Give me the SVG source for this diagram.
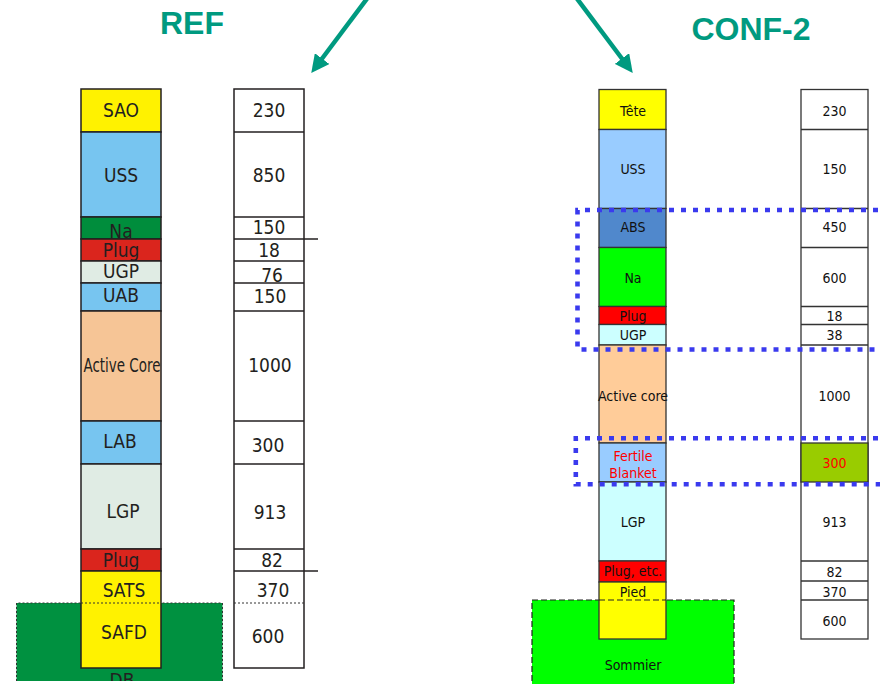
<svg xmlns="http://www.w3.org/2000/svg" width="880" height="684" viewBox="0 0 880 684">
<defs>
<style>
.t{font-family:"Liberation Sans Narrow","DejaVu Sans Condensed","Liberation Sans",sans-serif;text-anchor:middle;fill:#231F20}
.L{font-size:19px}
.R{font-size:14px;fill:#111}
.title{font-family:"Liberation Sans",Arial,sans-serif;font-weight:bold;font-size:32px;fill:#009A80;text-anchor:middle}
.lc{stroke:#231F20;stroke-width:1.5}
.rc{stroke:#333;stroke-width:1.3}
.box{fill:#fff}
.blue{fill:none;stroke:#3A3AEE;stroke-width:4.6;stroke-dasharray:5 7}
.arr{stroke:#009A80;stroke-width:4.5;fill:none}
</style>
<marker id="ah" markerUnits="userSpaceOnUse" markerWidth="18" markerHeight="18" refX="6" refY="8" orient="auto" viewBox="0 0 16 16">
<path d="M0,0 L16,8 L0,16 Z" fill="#009A80"/>
</marker>
<clipPath id="clipDB"><rect x="16" y="603" width="207" height="78"/></clipPath>
</defs>
<rect width="880" height="684" fill="#fff"/>

<g id="connectors">
<line class="arr" x1="373.5" y1="-10" x2="318" y2="64" marker-end="url(#ah)"/>
<line class="arr" x1="570.5" y1="-10" x2="626" y2="64" marker-end="url(#ah)"/>
</g>

<g id="title-ref"><text class="title" x="192" y="34">REF</text></g>
<g id="title-conf2"><text class="title" x="751" y="40">CONF-2</text></g>

<!-- LEFT: REF -->
<g id="ref-DB">
<rect x="16.5" y="603" width="206" height="78" fill="#009140"/>
<path d="M16.5,681 V603 H222.5 V681" fill="none" stroke="#333" stroke-width="1" stroke-dasharray="2 2"/>
<text class="t L" x="122" y="687" clip-path="url(#clipDB)">DB</text>
</g>
<g id="ref-SAO"><rect class="lc" x="81" y="89" width="80" height="43" fill="#FFF200"/><text class="t L" x="121" y="116.7">SAO</text></g>
<g id="ref-USS"><rect class="lc" x="81" y="132" width="80" height="85" fill="#77C5F0"/><text class="t L" x="121" y="181.7">USS</text></g>
<g id="ref-Na"><rect class="lc" x="81" y="217" width="80" height="22" fill="#008D3C"/><text class="t L" x="121" y="237.5">Na</text></g>
<g id="ref-Plug1"><rect class="lc" x="81" y="239" width="80" height="22" fill="#DA251D"/><text class="t L" x="121" y="256.7">Plug</text></g>
<g id="ref-UGP"><rect class="lc" x="81" y="261" width="80" height="22" fill="#E0ECE4"/><text class="t L" x="121" y="278">UGP</text></g>
<g id="ref-UAB"><rect class="lc" x="81" y="283" width="80" height="28" fill="#77C5F0"/><text class="t L" x="121" y="301.7">UAB</text></g>
<g id="ref-ActiveCore"><rect class="lc" x="81" y="311" width="80" height="110" fill="#F6C596"/><text class="t L" x="122" y="371.7" textLength="77" lengthAdjust="spacingAndGlyphs">Active Core</text></g>
<g id="ref-LAB"><rect class="lc" x="81" y="421" width="80" height="43" fill="#77C5F0"/><text class="t L" x="120" y="447.7">LAB</text></g>
<g id="ref-LGP"><rect class="lc" x="81" y="464" width="80" height="85" fill="#E0ECE4"/><text class="t L" x="123" y="518">LGP</text></g>
<g id="ref-Plug2"><rect class="lc" x="81" y="549" width="80" height="22" fill="#DA251D"/><text class="t L" x="121" y="566.7">Plug</text></g>
<g id="ref-SATS"><rect class="lc" x="81" y="571" width="80" height="97" fill="#FFF200"/><text class="t L" x="124" y="596.7">SATS</text>
<line x1="81" y1="603" x2="161" y2="603" stroke="#333" stroke-width="1" stroke-dasharray="2 2"/></g>
<g id="ref-SAFD"><text class="t L" x="124" y="639.3">SAFD</text></g>

<g id="ref-values">
<rect class="lc box" x="234" y="89" width="70" height="579"/>
<g class="lc">
<line x1="234" y1="132" x2="304" y2="132"/>
<line x1="234" y1="217" x2="304" y2="217"/>
<line x1="234" y1="239" x2="318" y2="239"/>
<line x1="234" y1="261" x2="304" y2="261"/>
<line x1="234" y1="283" x2="304" y2="283"/>
<line x1="234" y1="311" x2="304" y2="311"/>
<line x1="234" y1="421" x2="304" y2="421"/>
<line x1="234" y1="464" x2="304" y2="464"/>
<line x1="234" y1="549" x2="304" y2="549"/>
<line x1="234" y1="571" x2="318" y2="571"/>
</g>
<line x1="234" y1="603" x2="304" y2="603" stroke="#333" stroke-width="1" stroke-dasharray="2 2"/>
<text class="t L" x="269" y="116.7">230</text>
<text class="t L" x="269" y="181.7">850</text>
<text class="t L" x="269" y="234.3">150</text>
<text class="t L" x="269" y="256.7">18</text>
<text class="t L" x="272" y="282.3">76</text>
<text class="t L" x="270" y="303.3">150</text>
<text class="t L" x="270" y="372">1000</text>
<text class="t L" x="268" y="452.3">300</text>
<text class="t L" x="270" y="519">913</text>
<text class="t L" x="272" y="566.7">82</text>
<text class="t L" x="273" y="596.7">370</text>
<text class="t L" x="268" y="642.7">600</text>
</g>

<!-- RIGHT: CONF-2 -->
<g id="conf-Sommier">
<rect x="532" y="600" width="202" height="95" fill="#00FF00" stroke="#222" stroke-width="1.2" stroke-dasharray="6 3"/>
<text class="t R" x="633" y="670">Sommier</text>
</g>
<g id="conf-Tete"><rect class="rc" x="599" y="89.5" width="67" height="40" fill="#FFFF00"/><text class="t R" x="633" y="115.7">Tête</text></g>
<g id="conf-USS"><rect class="rc" x="599" y="129.5" width="67" height="79" fill="#99CCFF"/><text class="t R" x="633" y="174.3">USS</text></g>
<g id="conf-ABS"><rect class="rc" x="599" y="208.5" width="67" height="39" fill="#5088CC"/><text class="t R" x="633" y="232.3">ABS</text></g>
<g id="conf-Na"><rect class="rc" x="599" y="247.5" width="67" height="59" fill="#00FF00"/><text class="t R" x="633" y="282.7">Na</text></g>
<g id="conf-Plug"><rect class="rc" x="599" y="306.5" width="67" height="18" fill="#FF0000"/><text class="t R" x="633" y="321">Plug</text></g>
<g id="conf-UGP"><rect class="rc" x="599" y="324.5" width="67" height="20.5" fill="#CCFFFF"/><text class="t R" x="633" y="340">UGP</text></g>
<g id="conf-ActiveCore"><rect class="rc" x="599" y="345" width="67" height="98" fill="#FFCC99"/><text class="t R" x="633" y="400.7">Active core</text></g>
<g id="conf-FertileBlanket"><rect class="rc" x="599" y="443" width="67" height="39" fill="#99CCFF"/>
<text class="t R" x="633" y="460.7" style="fill:#FF0000">Fertile</text><text class="t R" x="633" y="478.3" style="fill:#FF0000">Blanket</text></g>
<g id="conf-LGP"><rect class="rc" x="599" y="482" width="67" height="79" fill="#CCFFFF"/><text class="t R" x="633" y="527.3">LGP</text></g>
<g id="conf-PlugEtc"><rect class="rc" x="599" y="561" width="67" height="21" fill="#FF0000"/><text class="t R" x="633" y="576">Plug, etc.</text></g>
<g id="conf-Pied"><rect class="rc" x="599" y="582" width="67" height="57" fill="#FFFF00"/><text class="t R" x="633" y="596.7">Pied</text>
<line x1="599" y1="600" x2="666" y2="600" stroke="#222" stroke-width="1.2" stroke-dasharray="6 3"/></g>

<g id="conf-values">
<rect class="rc box" x="801" y="89.5" width="67" height="549.5"/>
<rect class="rc" x="801" y="443" width="67" height="39" fill="#99CC00"/>
<g class="rc">
<line x1="801" y1="129.5" x2="868" y2="129.5"/>
<line x1="801" y1="208.5" x2="868" y2="208.5"/>
<line x1="801" y1="247.5" x2="868" y2="247.5"/>
<line x1="801" y1="306.5" x2="868" y2="306.5"/>
<line x1="801" y1="324.5" x2="868" y2="324.5"/>
<line x1="801" y1="345" x2="868" y2="345"/>
<line x1="801" y1="561" x2="868" y2="561"/>
<line x1="801" y1="581" x2="868" y2="581"/>
<line x1="801" y1="600" x2="868" y2="600"/>
</g>
<text class="t R" x="834.5" y="115.7">230</text>
<text class="t R" x="834.5" y="174.3">150</text>
<text class="t R" x="834.5" y="232.3">450</text>
<text class="t R" x="834.5" y="283.3">600</text>
<text class="t R" x="834.5" y="320.7">18</text>
<text class="t R" x="834.5" y="340">38</text>
<text class="t R" x="834.5" y="401">1000</text>
<text class="t R" x="834.5" y="468.3" style="fill:#FF0000">300</text>
<text class="t R" x="834.5" y="527.3">913</text>
<text class="t R" x="834.5" y="577.3">82</text>
<text class="t R" x="834.5" y="597.3">370</text>
<text class="t R" x="834.5" y="626">600</text>
</g>

<g id="highlight-top"><path class="blue" d="M890,210 H577.5 V349.5 H890"/></g>
<g id="highlight-blanket"><path class="blue" d="M890,438.3 H575.8 V484.2 H890"/></g>
</svg>
